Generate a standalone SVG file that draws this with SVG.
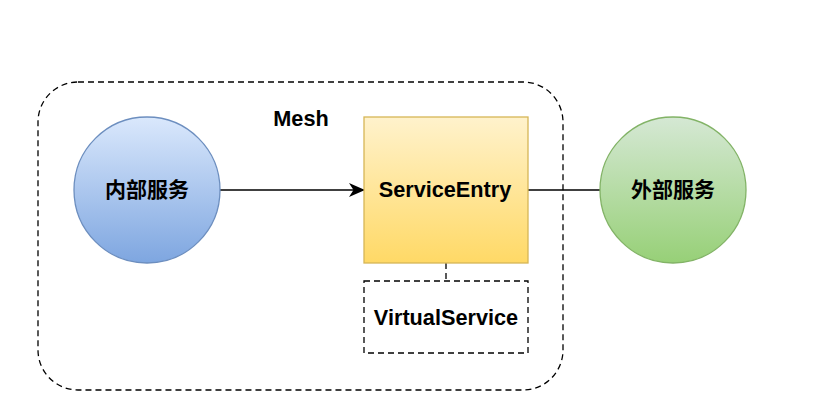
<svg xmlns="http://www.w3.org/2000/svg" width="823" height="409" viewBox="0 0 823 409">
<style>
.t{font-family:"Liberation Sans","Noto Sans CJK SC",Arial,sans-serif;font-weight:bold;font-size:21.7px;fill:#000;text-anchor:middle}
.c{font-size:21px}
.dash{fill:none;stroke:#000;stroke-width:1.3;stroke-dasharray:6 4}
.ln{fill:none;stroke:#000;stroke-width:1.3}
</style>
<defs>
<linearGradient id="gb" x1="0" y1="0" x2="0" y2="1"><stop offset="0" stop-color="#dae8fc"/><stop offset="1" stop-color="#7ea6e0"/></linearGradient>
<linearGradient id="gy" x1="0" y1="0" x2="0" y2="1"><stop offset="0" stop-color="#fff2cc"/><stop offset="1" stop-color="#ffd966"/></linearGradient>
<linearGradient id="gg" x1="0" y1="0" x2="0" y2="1"><stop offset="0" stop-color="#d5e8d4"/><stop offset="1" stop-color="#97d077"/></linearGradient>
<marker id="arr" markerWidth="16" markerHeight="14" refX="15" refY="7" orient="auto" markerUnits="userSpaceOnUse">
<path d="M0,0 L16,7 L0,14 L4.5,7 Z" fill="#000"/>
</marker>
</defs>
<rect width="823" height="409" fill="#fff"/>
<g id="mesh">
<rect class="dash" x="38" y="82" width="525" height="308" rx="40" ry="40"/>
<text class="t" x="301" y="126">Mesh</text>
</g>
<g id="connectors">
<line class="ln" x1="220" y1="190" x2="364" y2="190" marker-end="url(#arr)"/>
<line class="ln" x1="528" y1="190" x2="600" y2="190"/>
<polyline class="dash" points="446,263 446,281"/>
</g>
<g id="internal">
<circle cx="147" cy="190" r="73" fill="url(#gb)" stroke="#6c8ebf" stroke-width="1.3"/>
<text class="t c" x="147" y="197">内部服务</text>
</g>
<g id="serviceentry">
<rect x="364" y="117" width="164" height="146" fill="url(#gy)" stroke="#d6b656" stroke-width="1.3"/>
<text class="t" x="445" y="197">ServiceEntry</text>
</g>
<g id="virtualservice">
<rect class="dash" x="364" y="281" width="164" height="72" fill="#fff"/>
<text class="t" x="446" y="325">VirtualService</text>
</g>
<g id="external">
<circle cx="673" cy="190" r="73" fill="url(#gg)" stroke="#82b366" stroke-width="1.3"/>
<text class="t c" x="673" y="197">外部服务</text>
</g>
</svg>
